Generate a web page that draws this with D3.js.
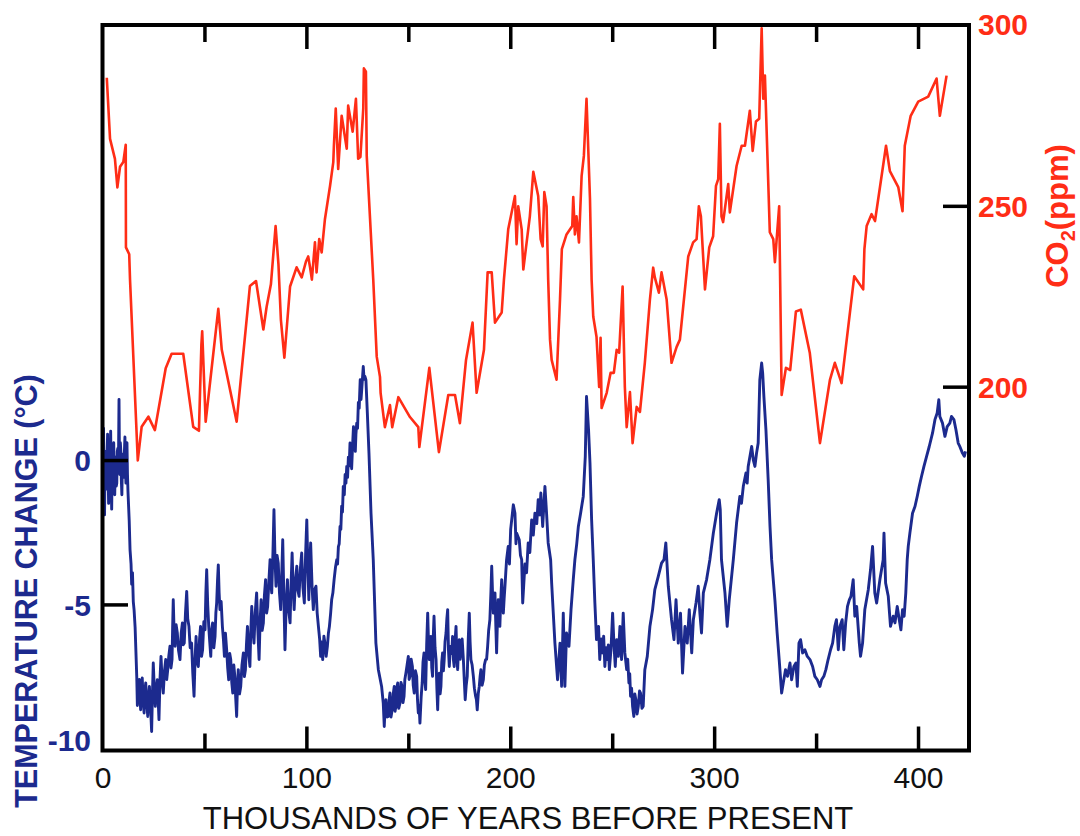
<!DOCTYPE html>
<html>
<head>
<meta charset="utf-8">
<script src="https://cdn.jsdelivr.net/npm/d3@7"></script>
<style>
  html, body { margin: 0; padding: 0; background: #fff; }
  svg { display: block; }
  text { font-family: "Liberation Sans", Arial, Helvetica, sans-serif; }
</style>
</head>
<body>
<div id="chart"></div>
<script>
// Vostok ice core: CO2 and temperature change over the last ~420,000 years.
// Age in thousands of years before present.

// Atmospheric CO2 (ppm): [age, ppm]
const co2Series = [
  [2.1,285.4],[3.7,268.5],[6.1,263.0],[7.3,255.1],[8.6,260.8],[10.2,262.1],[11.4,266.9],[11.5,238.5],
  [13.1,236.6],[13.5,229.6],[17.3,179.6],[19.2,188.9],[22.5,191.7],[25.7,188.0],[31.0,205.1],[33.9,209.1],
  [39.6,209.1],[44.5,188.9],[47.3,187.8],[48.5,211.6],[48.9,215.3],[50.6,190.3],[56.8,221.5],[58.5,210.2],
  [65.8,190.3],[72.3,227.8],[75.3,229.2],[78.9,215.8],[80.5,222.1],[82.6,228.3],[84.9,244.4],[86.3,233.8],
  [87.5,218.5],[89.2,208.0],[92.0,227.7],[95.2,233.0],[97.7,230.2],[99.8,234.6],[100.9,236.0],[101.8,233.0],
  [102.7,229.6],[104.2,239.9],[105.0,231.6],[106.3,240.8],[107.5,237.1],[109.1,246.3],[111.6,255.5],[113.2,262.1],
  [113.5,266.6],[114.4,276.9],[115.6,260.2],[117.3,274.9],[119.8,265.8],[120.5,277.7],[122.7,270.5],[124.3,279.6],
  [125.4,263.0],[126.5,263.5],[127.9,276.9],[128.2,288.0],[129.2,287.1],[129.6,263.8],[132.8,229.6],[134.5,208.3],
  [136.1,202.7],[136.4,198.3],[138.5,188.8],[141.0,194.9],[142.1,188.8],[145.1,197.1],[150.8,191.6],[154.9,188.8],
  [155.4,183.3],[160.3,205.2],[165.0,181.9],[169.6,197.7],[172.9,197.7],[175.3,189.9],[178.3,207.4],[181.5,217.7],
  [183.5,198.3],[187.1,210.2],[188.9,231.6],[190.9,231.6],[192.5,217.7],[195.8,220.5],[196.9,229.6],[199.0,243.5],
  [202.3,252.7],[203.1,239.4],[203.9,249.9],[205.6,243.5],[206.4,232.4],[209.6,247.1],[211.3,259.4],[213.7,252.7],
  [214.9,240.8],[215.9,238.8],[216.7,253.8],[217.8,249.9],[218.6,229.6],[219.5,213.0],[220.3,207.4],[222.7,201.9],
  [224.4,224.1],[225.3,238.0],[227.6,242.1],[230.4,244.4],[230.9,252.4],[231.7,242.1],[232.5,247.1],[233.7,239.9],
  [235.0,258.3],[236.1,263.8],[237.4,279.6],[239.1,251.9],[239.9,229.6],[240.7,219.4],[242.3,213.8],[243.6,199.9],
  [244.3,213.5],[244.8,194.1],[247.3,198.3],[249.2,203.8],[250.8,203.8],[252.2,210.2],[253.4,209.4],[255.1,227.7],
  [256.2,199.9],[257.1,188.8],[258.7,198.5],[260.0,184.4],[262.0,194.4],[263.6,193.0],[266.0,206.6],[268.5,224.1],
  [270.1,232.9],[270.9,230.2],[272.9,226.0],[274.2,231.6],[276.7,224.1],[279.1,206.6],[281.6,211.0],[283.2,213.0],
  [287.3,236.0],[289.7,239.9],[291.4,240.8],[292.5,249.9],[293.5,247.1],[295.5,226.9],[297.6,238.5],[299.5,241.6],
  [300.9,255.5],[302.0,257.4],[302.8,272.7],[303.6,247.1],[304.4,245.5],[306.9,256.0],[307.7,248.2],[311.0,261.0],
  [313.5,266.6],[315.1,266.6],[317.5,276.3],[318.9,265.2],[320.5,273.3],[322.1,274.1],[323.3,299.1],[324.1,279.6],
  [324.9,286.0],[327.3,242.7],[329.0,240.8],[329.8,234.4],[331.9,249.9],[333.1,197.7],[335.2,205.2],[337.3,204.6],
  [340.1,220.8],[342.5,221.3],[346.9,209.4],[351.9,184.4],[356.8,201.9],[359.2,206.6],[362.5,201.0],[368.7,230.5],
  [373.1,226.9],[373.7,238.0],[374.8,244.4],[377.2,247.7],[378.9,245.8],[384.3,266.6],[386.2,259.6],[390.3,255.2],
  [392.4,248.5],[393.5,266.6],[396.4,274.9],[400.1,278.8],[405.0,280.2],[409.1,285.2],[410.7,274.9],[414.0,286.0]
];

// Temperature change relative to present (°C): [age, dT]
const tempSeries = [
  [0,-0.5],[0.25,0.4],[0.5,1.1],[0.75,-0.6],[1.0,-1.9],[1.25,-0.2],[1.5,0.3],[1.75,-1.0],[2.0,-0.9],[2.25,0.2],
  [2.5,0.9],[2.75,-0.4],[3.0,-1.5],[3.25,-0.5],[3.5,0.2],[3.75,-0.3],[4.0,1.0],[4.25,-0.6],[4.5,-1.7],[4.75,-0.2],
  [5.0,-0.3],[5.25,0.5],[5.5,0.6],[5.75,-0.5],[6.0,-1.2],[6.25,-0.2],[6.5,0.1],[6.75,-0.9],[7.0,-0.8],[7.25,0.3],
  [7.5,0.4],[7.8,-0.4],[8.1,2.1],[8.3,0.2],[8.5,-0.5],[8.75,0.6],[9.0,0.3],[9.25,-0.7],[9.5,-1.2],[9.75,-0.1],
  [10.0,0.2],[10.25,-0.5],[10.5,-0.6],[10.75,0.3],[11.0,0.8],[11.25,-0.3],[11.5,-0.8],[11.75,0.1],[12.0,0.6],
  [12.25,-0.5],[12.5,-1.1],[13.1,-2.1],[13.5,-3.1],[14.0,-3.6],[14.3,-4.3],[14.7,-3.9],[15.1,-4.9],[15.5,-5.2],
  [16.0,-5.8],[16.8,-7.5],[17.1,-8.5],[17.6,-7.9],[18.1,-7.6],[18.4,-8.2],[18.7,-8.65],[19.1,-7.9],[19.5,-7.55],
  [19.9,-8.3],[20.4,-8.76],[20.8,-8.0],[21.2,-7.72],[21.7,-8.4],[22.2,-8.88],[22.6,-8.2],[23.0,-7.84],[23.6,-8.6],
  [24.1,-9.4],[24.5,-8.1],[24.9,-7.03],[25.4,-7.9],[25.9,-8.53],[26.4,-7.9],[26.9,-7.61],[27.3,-8.3],[27.7,-8.99],
  [28.2,-7.6],[28.7,-6.8],[29.2,-7.6],[29.8,-8.07],[30.4,-7.3],[31.0,-6.91],[31.5,-7.6],[32.0,-7.26],[32.5,-6.8],
  [33.1,-6.45],[33.6,-7.2],[34.1,-6.91],[34.4,-5.8],[34.7,-4.84],[35.1,-5.9],[35.6,-6.45],[36.1,-5.7],[36.7,-5.99],
  [37.3,-6.6],[38.0,-6.91],[38.6,-6.0],[39.2,-5.64],[39.6,-6.4],[40.1,-6.34],[40.7,-5.3],[41.3,-4.55],[41.8,-5.5],
  [42.4,-5.76],[43.0,-6.5],[43.7,-6.34],[44.3,-7.4],[44.9,-8.18],[45.4,-6.9],[45.9,-6.11],[46.4,-7.0],[47.0,-7.15],
  [47.6,-6.2],[48.1,-5.76],[48.6,-6.8],[49.1,-6.57],[49.7,-5.6],[50.3,-5.88],[50.7,-4.6],[51.1,-3.8],[51.6,-5.0],
  [52.1,-5.76],[52.6,-6.3],[53.1,-6.8],[53.5,-5.9],[54.0,-5.64],[54.6,-6.5],[55.2,-6.11],[55.6,-5.3],[56.0,-4.95],
  [56.4,-4.2],[56.8,-3.63],[57.2,-4.6],[57.6,-5.18],[58.2,-4.9],[58.8,-5.76],[59.3,-6.2],[59.8,-6.8],[60.3,-6.0],
  [60.9,-6.57],[61.4,-7.2],[61.9,-7.61],[62.4,-6.7],[62.9,-6.91],[63.4,-7.7],[63.9,-8.07],[64.4,-7.1],[64.9,-7.49],
  [65.3,-8.2],[65.8,-8.88],[66.2,-7.8],[66.6,-7.26],[67.2,-8.1],[67.8,-7.84],[68.4,-7.1],[69.1,-6.68],[69.6,-7.5],
  [70.1,-7.26],[70.6,-6.4],[71.1,-5.76],[71.7,-6.7],[72.3,-7.15],[72.7,-6.0],[73.2,-5.07],[73.7,-5.8],[74.3,-6.34],
  [74.9,-5.3],[75.6,-4.6],[76.2,-5.9],[76.8,-6.91],[77.3,-5.6],[77.8,-4.84],[78.3,-5.9],[78.9,-5.64],[79.4,-4.7],
  [80.0,-4.14],[80.5,-5.3],[81.0,-5.07],[81.6,-4.2],[82.2,-3.45],[82.6,-4.3],[83.0,-4.6],[83.6,-3.2],[84.1,-1.72],
  [84.6,-3.4],[85.1,-4.37],[85.6,-3.3],[86.2,-3.57],[86.8,-4.6],[87.4,-5.18],[87.9,-4.0],[88.4,-2.76],[89.0,-4.9],
  [89.5,-6.57],[90.1,-5.0],[90.7,-4.14],[91.3,-5.2],[92.0,-5.64],[92.5,-4.3],[93.0,-3.22],[93.5,-4.4],[94.0,-5.18],
  [94.6,-4.2],[95.3,-3.68],[95.8,-4.5],[96.4,-4.72],[97.0,-3.8],[97.7,-3.22],[98.3,-4.4],[99.0,-4.95],[99.6,-3.3],
  [100.2,-2.07],[100.7,-3.6],[101.2,-4.84],[101.6,-3.7],[102.1,-2.87],[102.8,-4.4],[103.4,-5.18],[104.0,-4.5],
  [104.7,-4.37],[105.3,-5.3],[105.9,-5.76],[106.5,-6.2],[107.0,-6.8],[107.5,-6.3],[108.0,-6.91],[108.6,-6.1],
  [109.1,-6.34],[109.7,-6.8],[110.3,-6.45],[110.8,-6.0],[111.3,-5.76],[111.9,-5.3],[112.4,-4.84],[113.0,-4.6],
  [113.6,-4.14],[114.3,-3.7],[114.9,-3.45],[115.3,-3.6],[115.7,-3.0],[116.1,-2.9],[116.5,-2.3],[116.9,-2.4],
  [117.3,-1.6],[117.7,-1.8],[118.1,-0.91],[118.6,-1.2],[119.0,-0.5],[119.4,-0.8],[119.8,-0.22],[120.2,-0.6],
  [120.6,0.1],[121.0,-0.2],[121.4,0.59],[121.8,0.1],[122.2,-0.3],[122.6,0.4],[123.1,1.16],[123.6,0.6],[124.0,0.3],
  [124.3,0.9],[124.7,1.28],[125.1,1.1],[125.5,2.0],[125.9,1.8],[126.4,2.78],[126.8,2.1],[127.1,2.4],[127.9,3.24],
  [128.3,2.8],[128.7,2.9],[129.2,2.78],[129.9,1.63],[130.7,0.24],[131.7,-1.84],[132.8,-3.45],
  [134.1,-6.34],[135.3,-7.26],[136.9,-7.84],[137.7,-8.42],[138.2,-9.23],[138.6,-8.6],[139.0,-8.30],[139.6,-8.9],
  [140.2,-8.88],[140.6,-8.3],[141.0,-8.07],[141.5,-8.9],[142.1,-8.65],[142.6,-8.1],[143.1,-7.84],[143.5,-8.7],
  [143.9,-8.53],[144.3,-7.9],[144.8,-7.72],[145.3,-8.6],[145.9,-8.42],[146.4,-7.7],[146.9,-7.84],[147.4,-8.4],
  [147.9,-8.18],[148.3,-7.6],[148.8,-7.38],[149.4,-7.1],[150.0,-6.80],[150.4,-7.6],[150.8,-7.49],[151.4,-6.9],
  [152.0,-7.15],[152.4,-7.8],[152.9,-8.07],[153.5,-7.3],[154.1,-7.49],[154.5,-8.3],[154.9,-8.76],[155.3,-8.5],
  [155.7,-9.11],[156.3,-8.2],[156.8,-7.72],[157.2,-7.0],[157.7,-6.68],[158.1,-7.6],[158.5,-7.95],[159.0,-6.4],
  [159.5,-5.30],[159.9,-6.3],[160.3,-6.91],[160.7,-6.3],[161.1,-6.11],[161.5,-7.2],[161.9,-7.49],[162.2,-6.2],
  [162.6,-5.41],[163.1,-6.5],[163.6,-6.91],[164.0,-7.9],[164.4,-8.65],[164.8,-7.6],[165.2,-7.38],[165.6,-8.1],
  [166.0,-7.84],[166.4,-7.0],[166.8,-6.68],[167.2,-7.3],[167.6,-6.91],[168.0,-6.3],[168.5,-5.99],[168.9,-5.5],
  [169.3,-5.18],[169.7,-6.6],[170.1,-7.15],[170.5,-6.6],[170.9,-6.45],[171.3,-6.7],[171.7,-6.11],[172.1,-6.9],
  [172.5,-7.15],[173.0,-6.2],[173.4,-5.76],[173.8,-6.8],[174.2,-7.26],[174.6,-6.5],[175.0,-6.22],[175.4,-6.9],
  [175.8,-6.57],[176.4,-6.2],[177.0,-6.91],[177.5,-7.7],[177.9,-8.30],[178.4,-7.8],[178.9,-7.49],[179.4,-6.2],
  [179.9,-5.30],[180.3,-6.3],[180.7,-6.91],[181.3,-7.1],[181.9,-7.49],[182.4,-7.9],[183.0,-8.18],[183.4,-8.3],
  [183.8,-8.65],[184.3,-8.1],[184.8,-7.84],[185.2,-7.5],[185.6,-7.26],[186.2,-7.8],[186.8,-7.61],[187.3,-7.1],
  [187.9,-6.91],[188.4,-6.9],[188.9,-6.45],[189.4,-5.9],[190.0,-5.53],[190.5,-4.6],[190.9,-3.68],[191.3,-4.6],
  [191.7,-5.30],[192.1,-5.0],[192.5,-4.60],[192.9,-5.7],[193.3,-6.68],[193.7,-5.6],[194.1,-4.84],[194.5,-5.2],
  [194.9,-5.76],[195.3,-4.9],[195.8,-4.14],[196.2,-4.9],[196.6,-5.30],[197.0,-4.8],[197.4,-4.37],[197.8,-3.9],
  [198.2,-3.45],
  [199.0,-2.99],[199.6,-3.6],[200.2,-2.4],[200.7,-2.07],[201.5,-1.55],[202.3,-1.84],[202.8,-2.9],[203.1,-2.53],
  [204.4,-2.76],[205.0,-3.3],[205.6,-3.45],[206.1,-4.95],[207.2,-3.6],[208.0,-3.9],[208.8,-2.87],[209.6,-3.2],
  [210.5,-2.07],[211.3,-2.6],[212.1,-1.84],[213.0,-2.2],[213.7,-1.37],[214.4,-1.9],[215.0,-1.14],[215.9,-2.3],
  [217.0,-0.91],[217.8,-1.84],[218.6,-2.87],[219.8,-3.45],[220.3,-4.26],[221.9,-6.34],[223.2,-7.61],[224.4,-6.34],
  [225.2,-7.84],[226.0,-5.3],[226.8,-7.84],[227.6,-5.99],[228.8,-6.45],[229.8,-5.18],[230.9,-4.14],[231.7,-3.45],
  [232.6,-2.9],[233.4,-2.3],[234.5,-1.84],[235.8,-1.26],[236.8,0.13],[237.4,2.2],[238.4,1.05],[239.1,-0.1],
  [239.9,-2.07],[240.7,-3.45],[241.5,-4.95],[242.3,-6.22],[243.3,-5.76],[243.9,-6.91],[244.6,-6.2],[245.3,-6.68],
  [245.8,-6.1],[246.4,-7.15],[247.0,-6.5],[247.6,-6.91],[248.1,-6.4],[248.6,-7.26],[249.4,-6.57],[250.2,-5.3],
  [250.9,-6.45],[251.5,-7.15],[252.2,-6.22],[253.0,-6.8],[253.8,-5.76],[254.6,-6.91],[255.4,-5.3],[256.2,-6.68],
  [257.1,-7.26],[257.6,-6.9],[258.2,-7.72],[258.6,-7.4],[259.0,-8.18],[259.5,-7.9],[260.0,-8.53],[260.6,-8.88],
  [261.1,-8.1],[261.6,-8.3],[262.2,-8.8],[262.8,-8.53],[263.4,-8.0],[263.9,-8.07],[264.6,-8.6],[265.2,-8.53],
  [266.0,-7.26],[267.2,-6.8],[268.5,-5.76],[269.8,-5.18],[270.9,-4.49],[272.6,-4.03],[274.2,-3.57],[275.4,-3.45],
  [276.3,-2.87],[277.5,-4.37],[279.1,-5.53],[280.3,-6.22],[281.3,-4.84],[282.4,-6.34],[283.5,-5.3],[284.5,-7.38],
  [285.7,-5.76],[286.8,-6.34],[287.8,-5.18],[289.0,-6.68],[289.8,-5.53],[291.1,-4.95],[292.2,-4.37],[293.0,-5.3],
  [293.8,-5.99],[294.7,-4.6],[296.3,-4.14],[297.9,-3.45],[299.6,-2.53],[301.2,-1.84],[302.5,-1.37],[303.0,-1.72],
  [303.6,-3.45],[305.3,-4.6],[306.4,-5.76],[307.4,-4.84],[309.4,-3.45],[311.0,-2.18],[312.6,-1.26],[313.4,-1.5],
  [314.3,-0.91],[315.6,-0.45],[316.2,-0.8],[316.7,-0.22],[318.4,0.47],[319.2,0.01],[320.0,-0.22],[320.8,0.24],
  [321.6,0.59],[322.4,2.78],[323.3,3.36],[323.8,3.01],[324.4,2.2],[325.4,1.05],[326.5,-0.68],[327.4,-2.3],
  [328.2,-3.45],[329.8,-4.84],[330.9,-5.99],[331.9,-6.91],[333.1,-8.07],[333.9,-7.72],[335.0,-7.26],[336.0,-7.49],
  [337.2,-7.03],[338.0,-7.61],[339.1,-7.15],[340.1,-7.03],[340.8,-7.84],[341.6,-6.34],[342.4,-6.22],[343.4,-6.68],
  [344.5,-6.57],[345.7,-6.8],[347.0,-6.91],[348.3,-7.15],[349.4,-7.49],[350.6,-7.61],[351.9,-7.84],[352.7,-7.61],
  [353.8,-7.49],[354.8,-7.26],[355.9,-6.91],[357.1,-6.57],[358.1,-6.34],[359.2,-5.76],[360.0,-5.53],[360.9,-6.57],
  [361.7,-5.76],[362.8,-5.53],[363.6,-6.57],[364.5,-5.64],[365.4,-5.07],[366.3,-4.84],[367.1,-4.72],[368.2,-4.14],
  [369.0,-5.41],[369.9,-5.07],[371.2,-6.34],[371.8,-6.8],[372.8,-6.34],[373.9,-5.18],[375.6,-4.49],[376.7,-3.8],
  [377.7,-2.99],[378.8,-4.6],[379.7,-4.95],[381.3,-4.14],[382.9,-3.45],[383.3,-2.53],[384.1,-4.26],[385.4,-4.72],
  [386.5,-5.76],[387.8,-5.41],[388.7,-5.64],[389.8,-5.07],[390.8,-5.53],[391.6,-5.88],[392.4,-5.18],[393.2,-5.41],
  [394.0,-4.6],[394.7,-3.45],[395.2,-2.99],[396.0,-2.53],[397.3,-1.84],[398.5,-1.61],[399.6,-1.26],[400.6,-0.91],
  [401.7,-0.57],[402.9,-0.22],[404.2,0.13],[405.5,0.47],[407.1,0.93],[408.3,1.4],[409.4,1.63],[410.2,2.09],
  [410.7,1.51],[412.0,1.28],[413.2,0.82],[414.3,1.16],[415.6,1.28],[416.4,1.51],[417.6,1.4],[418.6,1.05],
  [419.7,0.59],[420.5,0.47],[421.8,0.24],[422.7,0.13],[423.3,0.3]
];

// Axis ticks
const ageTicks = [0, 100, 200, 300, 400];
const ageMinorTicks = [50, 150, 250, 350];
const tempTicks = [0, -5, -10];
const co2Ticks = [300, 250, 200];

const W = 1080, H = 836;
const plot = { left: 102.5, right: 969, top: 25, bottom: 750.5 };

const x = d3.scaleLinear().domain([0, 425]).range([plot.left, plot.right]);
const yT = d3.scaleLinear().domain([-10.06, 15.07]).range([plot.bottom, plot.top]);
const yC = d3.scaleLinear().domain([99.4, 300]).range([plot.bottom, plot.top]);

const NAVY = "#1c2a8e";
const RED = "#ff2d16";
const plainNumber = d => String(d);   // hyphen-minus, as printed on the axes

const svg = d3.select("#chart").append("svg").attr("width", W).attr("height", H);
svg.append("rect").attr("width", W).attr("height", H).attr("fill", "#fff");

// Data lines
svg.append("path")
  .datum(co2Series)
  .attr("fill", "none")
  .attr("stroke", RED)
  .attr("stroke-width", 2.6)
  .attr("stroke-linejoin", "round")
  .attr("d", d3.line().x(d => x(d[0])).y(d => yC(d[1])));

svg.append("path")
  .datum(tempSeries)
  .attr("fill", "none")
  .attr("stroke", NAVY)
  .attr("stroke-width", 2.9)
  .attr("stroke-linejoin", "round")
  .attr("d", d3.line().x(d => x(d[0])).y(d => yT(d[1])));

// Frame
svg.append("rect")
  .attr("x", plot.left).attr("y", plot.top)
  .attr("width", plot.right - plot.left).attr("height", plot.bottom - plot.top)
  .attr("fill", "none").attr("stroke", "#000").attr("stroke-width", 4);

const styleTicks = g => {
  g.select(".domain").remove();
  g.selectAll("line").attr("stroke", "#000").attr("stroke-width", 3.5);
};

// Inward ticks on bottom and top edges
const majorAge = ageTicks.filter(v => v > 0);
svg.append("g").attr("transform", `translate(0,${plot.bottom})`)
  .call(d3.axisBottom(x).tickValues(majorAge).tickSize(-24).tickFormat(""))
  .call(styleTicks);
svg.append("g").attr("transform", `translate(0,${plot.bottom})`)
  .call(d3.axisBottom(x).tickValues(ageMinorTicks).tickSize(-17).tickFormat(""))
  .call(styleTicks);
svg.append("g").attr("transform", `translate(0,${plot.top})`)
  .call(d3.axisTop(x).tickValues(majorAge).tickSize(-24).tickFormat(""))
  .call(styleTicks);
svg.append("g").attr("transform", `translate(0,${plot.top})`)
  .call(d3.axisTop(x).tickValues(ageMinorTicks).tickSize(-17).tickFormat(""))
  .call(styleTicks);

// Left (temperature) ticks and labels
svg.append("g").attr("transform", `translate(${plot.left},0)`)
  .call(d3.axisLeft(yT).tickValues(tempTicks.filter(v => v > -10)).tickSize(-25.5).tickFormat(""))
  .call(styleTicks);
const leftLab = svg.append("g").attr("transform", `translate(${plot.left},0)`)
  .call(d3.axisLeft(yT).tickValues(tempTicks).tickSize(0).tickFormat(plainNumber));
leftLab.select(".domain").remove();
leftLab.attr("font-size", null).attr("font-family", null);
leftLab.selectAll("text")
  .attr("x", -11.5)
  .attr("y", d => d === -10 ? -8.8 : 0)
  .attr("dy", "0.36em")
  .attr("fill", NAVY)
  .style("font-size", "30px").style("font-weight", "bold");

// Right (CO2) ticks and labels
svg.append("g").attr("transform", `translate(${plot.right},0)`)
  .call(d3.axisRight(yC).tickValues(co2Ticks.filter(v => v < 300)).tickSize(-26).tickFormat(""))
  .call(styleTicks);
const rightLab = svg.append("g").attr("transform", `translate(${plot.right},0)`)
  .call(d3.axisRight(yC).tickValues(co2Ticks).tickSize(0).tickFormat(plainNumber));
rightLab.select(".domain").remove();
rightLab.attr("font-size", null).attr("font-family", null);
rightLab.selectAll("text")
  .attr("x", 9)
  .attr("y", d => d === 300 ? -1.5 : 0)
  .attr("dy", "0.36em")
  .attr("fill", RED)
  .style("font-size", "30px").style("font-weight", "bold");

// Bottom (age) labels
const bottomLab = svg.append("g").attr("transform", `translate(0,${plot.bottom})`)
  .call(d3.axisBottom(x).tickValues(ageTicks).tickSize(0).tickFormat(plainNumber));
bottomLab.select(".domain").remove();
bottomLab.attr("font-size", null).attr("font-family", null);
bottomLab.selectAll("text")
  .attr("y", 37.5).attr("dy", 0)
  .attr("fill", "#111")
  .style("font-size", "30px");

// Axis titles
svg.append("text")
  .attr("x", 528).attr("y", 829)
  .attr("text-anchor", "middle")
  .attr("fill", "#111")
  .style("font-size", "31px")
  .text("THOUSANDS OF YEARS BEFORE PRESENT");

svg.append("text")
  .attr("transform", "translate(37,591) rotate(-90)")
  .attr("text-anchor", "middle")
  .attr("fill", NAVY)
  .style("font-size", "30.5px").style("font-weight", "bold")
  .text("TEMPERATURE CHANGE (°C)");

const co2Title = svg.append("text")
  .attr("transform", "translate(1068,216) rotate(-90)")
  .attr("text-anchor", "middle")
  .attr("fill", RED)
  .style("font-size", "31px").style("font-weight", "bold");
co2Title.append("tspan").text("CO");
co2Title.append("tspan").attr("dy", 7).style("font-size", "20px").text("2");
co2Title.append("tspan").attr("dy", -7).text("(ppm)");
</script>
</body>
</html>
